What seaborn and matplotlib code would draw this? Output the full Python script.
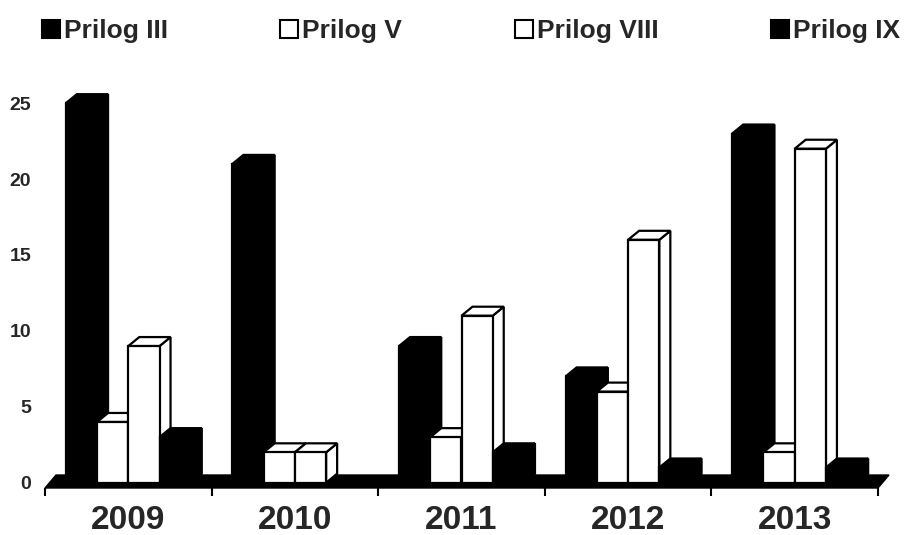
import numpy as np
import pandas as pd
import seaborn as sns
import matplotlib.pyplot as plt
from matplotlib.patches import Polygon
from matplotlib.lines import Line2D

# Podaci (broj po prilogu i godini)
years = ['2009', '2010', '2011', '2012', '2013']
series = ['Prilog III', 'Prilog V', 'Prilog VIII', 'Prilog IX']
prilog_iii = [25, 21, 9, 7, 23]
prilog_v = [4, 2, 3, 6, 2]
prilog_viii = [9, 2, 11, 16, 22]
prilog_ix = [3, 0, 2, 1, 1]
colors = ['black', 'white', 'white', 'black']

df = pd.DataFrame({
    'godina': years * len(series),
    'prilog': np.repeat(series, len(years)),
    'broj': prilog_iii + prilog_v + prilog_viii + prilog_ix,
})

sns.set_style('white')
plt.rcParams['font.family'] = ['Liberation Sans', 'DejaVu Sans']

W, H = 912, 535
fig = plt.figure(figsize=(W / 100, H / 100), dpi=100)
ax = fig.add_axes([45 / W, (H - 488) / H, (878 - 45) / W, (488 - 88) / H])

sns.barplot(data=df, x='godina', y='broj', hue='prilog', hue_order=series,
            palette=dict(zip(series, colors)), width=0.75, edgecolor='black',
            linewidth=1.6, legend=False, ax=ax)

ax.set_xlim(-0.5, len(years) - 0.5)
ax.set_ylim(-0.35, 26)

# pomak za 3D efekt (u pikselima -> jedinice podataka)
px_x = ax.bbox.width / (ax.get_xlim()[1] - ax.get_xlim()[0])
px_y = ax.bbox.height / (ax.get_ylim()[1] - ax.get_ylim()[0])
ddx = 11 / px_x
ddy = 9 / px_y

# pod (crna traka)
ylo = ax.get_ylim()[0]
fd = 13 / px_y
floor = Polygon([(-0.5, ylo), (len(years) - 0.5, ylo),
                 (len(years) - 0.5 + ddx, ylo + fd), (-0.5 + ddx, ylo + fd)],
                closed=True, facecolor='black', edgecolor='black', zorder=1,
                clip_on=False)
ax.add_patch(floor)

bars = sorted([p for p in ax.patches if p is not floor], key=lambda p: p.get_x())
for i, p in enumerate(bars):
    h = p.get_height()
    z = 2 + i * 0.01
    if h <= 0:
        p.set_visible(False)
        continue
    x0 = p.get_x()
    x1 = x0 + p.get_width()
    fc = p.get_facecolor()
    top = Polygon([(x0, h), (x1, h), (x1 + ddx, h + ddy), (x0 + ddx, h + ddy)],
                  closed=True, facecolor=fc, edgecolor='black', linewidth=1.6,
                  zorder=z, clip_on=False)
    side = Polygon([(x1, 0), (x1 + ddx, ddy), (x1 + ddx, h + ddy), (x1, h)],
                   closed=True, facecolor=fc, edgecolor='black', linewidth=1.6,
                   zorder=z, clip_on=False)
    ax.add_patch(side)
    ax.add_patch(top)
    p.set_zorder(z + 0.005)

for s in ax.spines.values():
    s.set_visible(False)

ax.set_xlabel('')
ax.set_ylabel('')
ax.set_yticks([0, 5, 10, 15, 20, 25])
ax.tick_params(axis='y', length=0, pad=10, labelsize=14)
ax.set_xticks(range(len(years)))
ax.set_xticklabels(years)
ax.set_xticks(np.arange(-0.5, len(years)), minor=True)
ax.tick_params(axis='x', which='major', length=0, pad=12, labelsize=24)
ax.tick_params(axis='x', which='minor', length=6, width=1.5, color='black',
               direction='out', bottom=True)
for lbl in ax.get_xticklabels() + ax.get_yticklabels():
    lbl.set_fontweight('bold')

# legenda
handles = [Line2D([], [], linestyle='none', marker='s', markersize=13,
                  markerfacecolor=c, markeredgecolor='black', markeredgewidth=1.5)
           for c in colors]
fig.legend(handles, series, loc='center', ncol=4, mode='expand',
           bbox_to_anchor=(40 / W, 0.915, (900 - 40) / W, 0.055), frameon=False,
           prop={'size': 19, 'weight': 'bold'}, handlelength=0.8,
           handletextpad=0.1, borderpad=0, borderaxespad=0)

plt.savefig('out.png', dpi=100)
